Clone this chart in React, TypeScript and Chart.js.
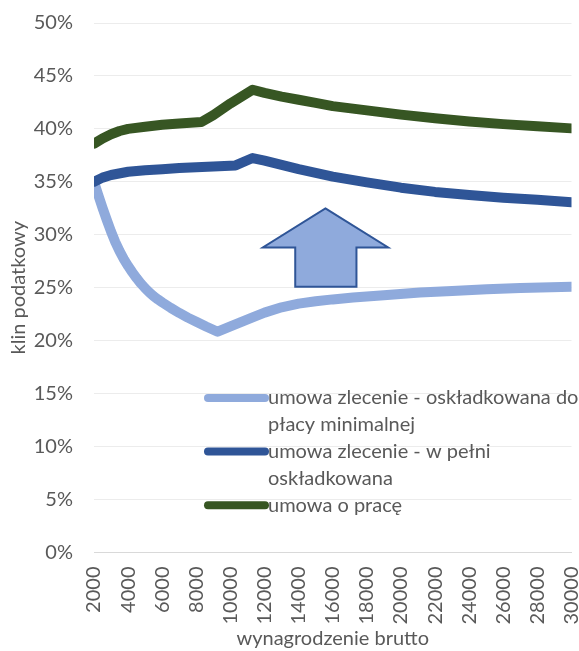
import React, { useEffect, useRef } from 'react';
import { Chart, registerables } from 'chart.js';

Chart.register(...registerables);

// ---------- data ----------
const X_TICKS = [2000, 4000, 6000, 8000, 10000, 12000, 14000, 16000, 18000, 20000, 22000, 24000, 26000, 28000, 30000];
const Y_TICKS = [0, 5, 10, 15, 20, 25, 30, 35, 40, 45, 50];

const SERIES_LABELS = [
  'umowa zlecenie - oskładkowana do płacy minimalnej',
  'umowa zlecenie - w pełni oskładkowana',
  'umowa o pracę',
];
const LEGEND_LINES = [
  ['umowa zlecenie - oskładkowana do', 'płacy minimalnej'],
  ['umowa zlecenie - w pełni', 'oskładkowana'],
  ['umowa o pracę'],
];

const LIGHT_X = [2000, 2250, 2500, 2750, 3000, 3250, 3500, 3750, 4000, 4250, 4500, 4750, 5000, 5250, 5500, 5750, 6000, 6500, 7000, 7500, 8000, 8600, 9250, 10000, 11300, 12000, 13000, 14000, 15000, 16000, 17190, 19000, 21110, 23000, 25030, 27000, 30000];
const LIGHT_Y = [35.0, 33.75, 32.55, 31.4, 30.3, 29.3, 28.45, 27.7, 27.05, 26.45, 25.9, 25.4, 24.95, 24.55, 24.2, 23.9, 23.62, 23.1, 22.62, 22.18, 21.78, 21.32, 20.85, 21.35, 22.2, 22.65, 23.15, 23.5, 23.72, 23.9, 24.07, 24.3, 24.55, 24.7, 24.85, 24.97, 25.1];

const DARK_X = [2000, 2500, 3000, 4000, 5000, 6000, 7000, 8000, 9000, 10300, 11300, 12000, 13000, 14000, 15000, 16000, 18000, 20000, 22000, 24000, 26000, 28000, 30000];
const DARK_Y = [35.0, 35.4, 35.65, 35.95, 36.1, 36.2, 36.3, 36.38, 36.45, 36.55, 37.25, 37.0, 36.6, 36.2, 35.85, 35.5, 34.95, 34.45, 34.05, 33.75, 33.5, 33.3, 33.08];

const GREEN_X = [2000, 2500, 3000, 3500, 4000, 5000, 6000, 7000, 8300, 9000, 10000, 11300, 12000, 13000, 14000, 15000, 16000, 18000, 20000, 22000, 24000, 26000, 28000, 30000];
const GREEN_Y = [38.6, 39.1, 39.5, 39.8, 40.0, 40.2, 40.4, 40.5, 40.65, 41.3, 42.4, 43.7, 43.4, 43.05, 42.75, 42.45, 42.15, 41.75, 41.35, 41.0, 40.7, 40.45, 40.25, 40.05];

const COLORS = ['#8faadc', '#2f5597', '#375623'];

// decorative up-arrow, in data units
const ARROW_TIP = { x: 15570, y: 32.5 };
const ARROW_WING = { left: 11900, right: 19250, y: 28.8 };
const ARROW_SHAFT = { left: 13800, right: 17390, bottom: 25.1 };

const FONT = 'Lato, "Open Sans", sans-serif';
const FONT_SIZE = 20;
const TEXT_COLOR = '#595959';

const toPoints = (xs: number[], ys: number[]) => xs.map((x, i) => ({ x, y: ys[i] }));

const arrowPlugin = {
  id: 'arrowPlugin',
  afterDatasetsDraw(chart: any) {
    const { ctx, scales } = chart;
    const X = (v: number) => scales.x.getPixelForValue(v);
    const Y = (v: number) => scales.y.getPixelForValue(v);
    ctx.save();
    ctx.beginPath();
    ctx.moveTo(X(ARROW_TIP.x), Y(ARROW_TIP.y));
    ctx.lineTo(X(ARROW_WING.right), Y(ARROW_WING.y));
    ctx.lineTo(X(ARROW_SHAFT.right), Y(ARROW_WING.y));
    ctx.lineTo(X(ARROW_SHAFT.right), Y(ARROW_SHAFT.bottom));
    ctx.lineTo(X(ARROW_SHAFT.left), Y(ARROW_SHAFT.bottom));
    ctx.lineTo(X(ARROW_SHAFT.left), Y(ARROW_WING.y));
    ctx.lineTo(X(ARROW_WING.left), Y(ARROW_WING.y));
    ctx.closePath();
    ctx.fillStyle = '#8faadc';
    ctx.fill();
    ctx.lineWidth = 2;
    ctx.strokeStyle = '#2f5597';
    ctx.lineJoin = 'miter';
    ctx.stroke();
    ctx.restore();
  },
};

const legendPlugin = {
  id: 'customLegend',
  afterDraw(chart: any) {
    const { ctx } = chart;
    const x0 = 208, x1 = 265, tx = 268;
    const lh = 26.8;
    let y = 398;
    ctx.save();
    ctx.font = `${FONT_SIZE}px ${FONT}`;
    ctx.textBaseline = 'middle';
    ctx.textAlign = 'left';
    LEGEND_LINES.forEach((lines, i) => {
      ctx.beginPath();
      ctx.moveTo(x0, y);
      ctx.lineTo(x1, y);
      ctx.lineWidth = 8;
      ctx.lineCap = 'round';
      ctx.strokeStyle = COLORS[i];
      ctx.stroke();
      ctx.fillStyle = TEXT_COLOR;
      lines.forEach((t, j) => ctx.fillText(t, tx, y + j * lh));
      y += lines.length * lh;
    });
    ctx.restore();
  },
};

export default function App() {
  const ref = useRef<HTMLCanvasElement>(null);
  useEffect(() => {
    document.body.style.margin = '0';
    const ds = [
      { label: SERIES_LABELS[0], data: toPoints(LIGHT_X, LIGHT_Y), color: COLORS[0], order: 3 },
      { label: SERIES_LABELS[1], data: toPoints(DARK_X, DARK_Y), color: COLORS[1], order: 2 },
      { label: SERIES_LABELS[2], data: toPoints(GREEN_X, GREEN_Y), color: COLORS[2], order: 1 },
    ];
    const chart = new Chart(ref.current!, {
      type: 'line',
      data: {
        datasets: ds.map((d) => ({
          label: d.label,
          data: d.data,
          borderColor: d.color,
          backgroundColor: d.color,
          borderWidth: 10,
          pointRadius: 0,
          tension: 0,
          borderCapStyle: 'round',
          borderJoinStyle: 'round',
          order: d.order,
          fill: false,
        })),
      },
      options: {
        animation: false,
        responsive: false,
        layout: { padding: { top: 23, right: 7.5, left: 0, bottom: 0 } },
        plugins: { legend: { display: false }, tooltip: { enabled: false } },
        scales: {
          x: {
            type: 'linear',
            min: 2000,
            max: 30000,
            afterBuildTicks: (s: any) => { s.ticks = X_TICKS.map((v) => ({ value: v })); },
            afterFit: (s: any) => { s.height = 98.5; s.paddingLeft = 0; s.paddingRight = 0; },
            grid: { display: false, drawTicks: false },
            border: { display: true, color: '#d9d9d9', width: 1 },
            ticks: {
              autoSkip: false,
              maxRotation: 90,
              minRotation: 90,
              padding: 14,
              color: TEXT_COLOR,
              font: { family: FONT, size: FONT_SIZE },
              callback: (v: any) => String(v),
            },
            title: {
              display: true,
              text: 'wynagrodzenie brutto',
              color: TEXT_COLOR,
              font: { family: FONT, size: FONT_SIZE },
              padding: { top: 0, bottom: 0 },
            },
          },
          y: {
            min: 0,
            max: 50,
            afterBuildTicks: (s: any) => { s.ticks = Y_TICKS.map((v) => ({ value: v })); },
            afterFit: (s: any) => { s.width = 94; s.paddingTop = 0; s.paddingBottom = 0; },
            grid: { color: '#ececec', lineWidth: 1, drawTicks: false },
            border: { display: false },
            ticks: {
              padding: 21,
              color: TEXT_COLOR,
              font: { family: FONT, size: FONT_SIZE },
              callback: (v: any) => v + '%',
            },
            title: {
              display: true,
              text: 'klin podatkowy',
              color: TEXT_COLOR,
              font: { family: FONT, size: FONT_SIZE },
              padding: { top: 7, bottom: 0 },
            },
          },
        },
      },
      plugins: [arrowPlugin, legendPlugin],
    } as any);
    return () => chart.destroy();
  }, []);
  return (
    <div style={{ position: 'absolute', left: 0, top: 0, width: 579, height: 651 }}>
      <canvas ref={ref} width={579} height={651} />
    </div>
  );
}
